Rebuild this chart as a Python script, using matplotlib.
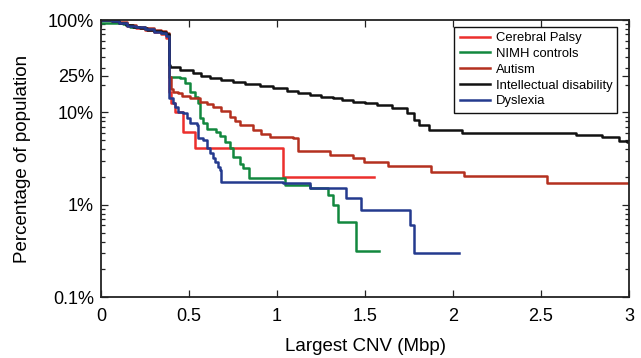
import matplotlib
matplotlib.use("Agg")
import matplotlib.pyplot as plt
from matplotlib.ticker import FixedLocator, LogLocator, NullFormatter

plt.rcParams['font.family'] = ['Liberation Sans', 'DejaVu Sans']

# Curvas de supervivencia: (tamaño del CNV mas grande en Mbp, porcentaje de poblacion)
cp_x = [0, 0.06, 0.10, 0.15, 0.20, 0.25, 0.30, 0.34, 0.37, 0.386, 0.40, 0.42, 0.467, 0.533, 1.034, 1.55]
cp_y = [100, 97, 92, 87, 82, 78, 74, 70, 64, 16.7, 12.5, 10.2, 6.1, 4.1, 2.0, 2.0]

nimh_x = [0, 0.125, 0.14, 0.165, 0.20, 0.25, 0.30, 0.34, 0.37, 0.386, 0.448, 0.476, 0.505, 0.533, 0.55,
          0.562, 0.579, 0.60, 0.656, 0.675, 0.703, 0.732, 0.749, 0.788, 0.805, 0.839, 1.044, 1.185,
          1.288, 1.316, 1.344, 1.45, 1.579]
nimh_y = [92, 90, 88, 85, 83, 79, 76, 73, 70, 24.3, 23.4, 20.7, 16.8, 14.8, 12.6,
          8.6, 7.6, 6.7, 6.2, 5.5, 4.8, 4.1, 3.3, 2.8, 2.5, 1.94, 1.62, 1.51,
          1.28, 0.99, 0.66, 0.32, 0.32]

autism_x = [0, 0.06, 0.10, 0.15, 0.20, 0.25, 0.30, 0.34, 0.37, 0.386, 0.395, 0.40, 0.41, 0.437, 0.46,
            0.505, 0.562, 0.60, 0.635, 0.68, 0.732, 0.76, 0.788, 0.862, 0.91, 0.959, 1.089, 1.117,
            1.299, 1.429, 1.497, 1.628, 1.877, 2.065, 2.535, 3.0]
autism_y = [100, 98, 94, 89, 85, 81, 78, 76, 73, 24, 21, 18, 16.5, 16.1, 15,
            14.2, 13.1, 12.3, 11.5, 10.3, 9.0, 8.0, 7.3, 6.45, 5.9, 5.45, 5.25, 3.8,
            3.46, 3.18, 2.88, 2.63, 2.28, 2.05, 1.73, 1.73]

id_x = [0, 0.06, 0.10, 0.14, 0.18, 0.22, 0.26, 0.30, 0.34, 0.37, 0.386, 0.391, 0.45, 0.522, 0.57, 0.618,
        0.68, 0.749, 0.82, 0.902, 0.98, 1.055, 1.12, 1.185, 1.25, 1.316, 1.37, 1.429, 1.50, 1.566,
        1.656, 1.736, 1.781, 1.809, 1.866, 2.053, 2.70, 2.847, 2.944, 2.99, 3.0]
id_y = [100, 98, 93, 88, 84, 81, 78, 76, 74, 71, 33, 31.2, 28.5, 26.5, 25, 23.4,
        22.5, 21.5, 20.4, 19.3, 18.2, 17.2, 16.3, 15.4, 14.8, 14.2, 13.6, 13.1, 12.5, 12.0,
        11.1, 9.8, 8.3, 7.3, 6.45, 5.94, 5.69, 5.38, 4.94, 4.81, 4.81]

dys_x = [0, 0.06, 0.10, 0.15, 0.20, 0.25, 0.30, 0.34, 0.37, 0.386, 0.41, 0.42, 0.437, 0.465, 0.486,
         0.505, 0.543, 0.552, 0.579, 0.60, 0.618, 0.635, 0.65, 0.665, 0.675, 0.684, 1.034, 1.185,
         1.394, 1.479, 1.753, 1.781, 2.036]
dys_y = [100, 97, 92, 87, 83, 79, 75, 72, 67, 14.2, 12.5, 11.5, 10.2, 9.8, 8.6,
         7.6, 7.3, 5.25, 5.0, 4.1, 3.6, 3.18, 2.92, 2.58, 2.38, 1.78, 1.71, 1.51,
         1.18, 0.89, 0.60, 0.30, 0.30]

series = [
    ("Cerebral Palsy", cp_x, cp_y, "#ec2f2c"),
    ("NIMH controls", nimh_x, nimh_y, "#12883e"),
    ("Autism", autism_x, autism_y, "#b4301f"),
    ("Intellectual disability", id_x, id_y, "#111111"),
    ("Dyslexia", dys_x, dys_y, "#243a8e"),
]

fig = plt.figure(figsize=(6.41, 3.58), dpi=100)
ax = fig.add_axes([0.1576, 0.1696, 0.8237, 0.7745])

for nombre, xs, ys, color in series:
    ax.plot(xs, ys, drawstyle="steps-post", color=color, lw=1.8, label=nombre)

ax.set_yscale("log")
ax.set_xlim(0, 3)
ax.set_ylim(0.1, 100)

ax.xaxis.set_major_locator(FixedLocator([0, 0.5, 1, 1.5, 2, 2.5, 3]))
ax.set_xticklabels(["0", "0.5", "1", "1.5", "2", "2.5", "3"])
ax.yaxis.set_major_locator(FixedLocator([0.1, 1, 10, 25, 100]))
ax.set_yticklabels(["0.1%", "1%", "10%", "25%", "100%"])
ax.yaxis.set_minor_locator(LogLocator(base=10, subs=[2, 3, 4, 5, 6, 7, 8, 9]))
ax.yaxis.set_minor_formatter(NullFormatter())

ax.tick_params(which="both", direction="in", top=True, right=True, labelsize=13, width=0.9, color="#222222")
ax.tick_params(which="major", length=5, pad=5)
ax.tick_params(axis="x", which="major", pad=8)
ax.tick_params(which="minor", length=3)
for s in ax.spines.values():
    s.set_linewidth(1.3)
    s.set_color("#222222")

ax.set_xlabel("Largest CNV (Mbp)", fontsize=13.5, labelpad=9)
ax.set_ylabel("Percentage of population", fontsize=13.5, labelpad=12)

leg = ax.legend(loc="upper right", bbox_to_anchor=(0.983, 0.985), fontsize=9.4, fancybox=False,
                framealpha=1, edgecolor="#111111", handlelength=2.3, borderpad=0.4,
                labelspacing=0.28, handletextpad=0.45, borderaxespad=0.2)
leg.get_frame().set_linewidth(1.0)

fig.savefig("out.png", dpi=100)
